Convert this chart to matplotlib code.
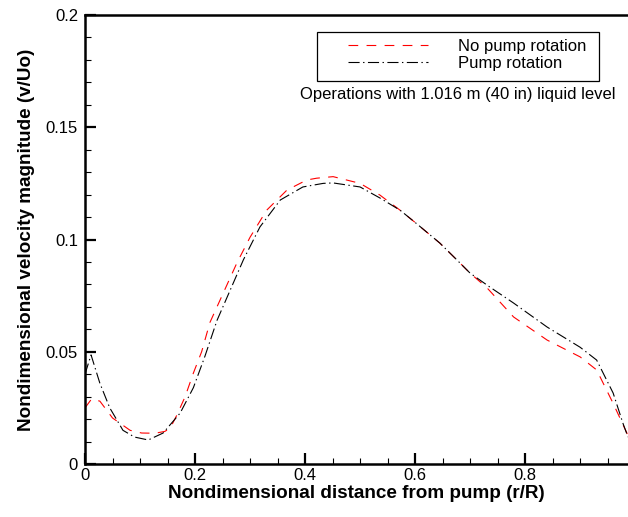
import matplotlib
matplotlib.use("Agg")
import matplotlib.pyplot as plt
from matplotlib.patches import Rectangle
from matplotlib.ticker import MultipleLocator

plt.rcParams['font.family'] = ['Liberation Sans', 'DejaVu Sans']
plt.rcParams['lines.scale_dashes'] = False

# No pump rotation (red dashed)
x_nopump = [0.0, 0.012, 0.027, 0.05, 0.082, 0.103, 0.127, 0.145, 0.155, 0.167,
            0.182, 0.197, 0.212, 0.227, 0.251, 0.276, 0.300, 0.330, 0.367, 0.403,
            0.421, 0.451, 0.5, 0.536, 0.573, 0.603, 0.645, 0.676, 0.70, 0.731,
            0.779, 0.84, 0.9, 0.93, 0.96, 0.985, 0.987]
v_nopump = [0.025, 0.029, 0.028, 0.0205, 0.015, 0.0138, 0.0137, 0.0145, 0.016, 0.0218,
            0.030, 0.0405, 0.050, 0.063, 0.076, 0.0895, 0.101, 0.113, 0.122, 0.1265,
            0.1273, 0.128, 0.125, 0.1198, 0.113, 0.107, 0.0984, 0.0909, 0.085, 0.0784,
            0.0655, 0.0552, 0.0477, 0.0419, 0.027, 0.0138, 0.0107]

# Pump rotation (black dash-dot)
x_pump = [0.0, 0.011, 0.027, 0.045, 0.069, 0.09, 0.115, 0.142, 0.173, 0.197,
          0.218, 0.24, 0.264, 0.288, 0.318, 0.355, 0.396, 0.433, 0.451, 0.5,
          0.536, 0.573, 0.603, 0.645, 0.676, 0.70, 0.736, 0.779, 0.84, 0.9,
          0.93, 0.96, 0.978, 0.987]
v_pump = [0.040, 0.0486, 0.036, 0.025, 0.015, 0.012, 0.0107, 0.0138, 0.0227, 0.034,
          0.048, 0.064, 0.0775, 0.091, 0.1056, 0.1176, 0.1234, 0.125, 0.1252, 0.1234,
          0.1185, 0.113, 0.107, 0.0984, 0.0909, 0.085, 0.0788, 0.0717, 0.061, 0.052,
          0.0463, 0.0316, 0.018, 0.012]

W, H = 628, 517
fig = plt.figure(figsize=(W / 100, H / 100), dpi=100)
ax = fig.add_axes([85 / W, 53 / H, 543 / W, 449 / H])

ax.plot(x_nopump, v_nopump, color='red', lw=0.8, dashes=(7, 6), label='No pump rotation')
ax.plot(x_pump, v_pump, color='black', lw=0.8, dashes=(8, 2.5, 1, 2.5), label='Pump rotation')

ax.set_xlim(0, 0.987)
ax.set_ylim(0, 0.2)
ax.xaxis.set_minor_locator(MultipleLocator(0.05))
ax.yaxis.set_minor_locator(MultipleLocator(0.01))
ax.set_xticks([0, 0.2, 0.4, 0.6, 0.8])
ax.set_xticklabels(['0', '0.2', '0.4', '0.6', '0.8'])
ax.set_yticks([0, 0.05, 0.1, 0.15, 0.2])
ax.set_yticklabels(['0', '0.05', '0.1', '0.15', '0.2'])

ax.tick_params(which='major', direction='in', length=8, width=1.6, labelsize=12)
ax.tick_params(which='minor', direction='in', length=4.5, width=0.8)
ax.tick_params(axis='y', pad=5)
ax.tick_params(axis='x', pad=3)
ax.spines['right'].set_visible(False)
for s in ['left', 'bottom', 'top']:
    ax.spines[s].set_linewidth(1.8)

ax.set_xlabel('Nondimensional distance from pump (r/R)', fontsize=13.6, fontweight='bold', labelpad=1)
ax.set_ylabel('Nondimensional velocity magnitude (v/Uo)', fontsize=13.6, fontweight='bold', labelpad=8)

# legend without frame, box drawn separately (wide side padding like the original)
leg = ax.legend(loc='upper left', bbox_to_anchor=(340 / W, 1 - 31 / H),
                bbox_transform=fig.transFigure, frameon=False, fontsize=12,
                handlelength=4.8, handletextpad=1.8, labelspacing=0.1, borderpad=0)
fig.patches.append(Rectangle((317 / W, 1 - 81 / H), 282 / W, 49 / H, transform=fig.transFigure,
                             fill=False, edgecolor='black', lw=0.9))
fig.text(457.5 / W, 1 - 95 / H, 'Operations with 1.016 m (40 in) liquid level',
         ha='center', va='center', fontsize=12)

fig.savefig('out.png', dpi=100)
